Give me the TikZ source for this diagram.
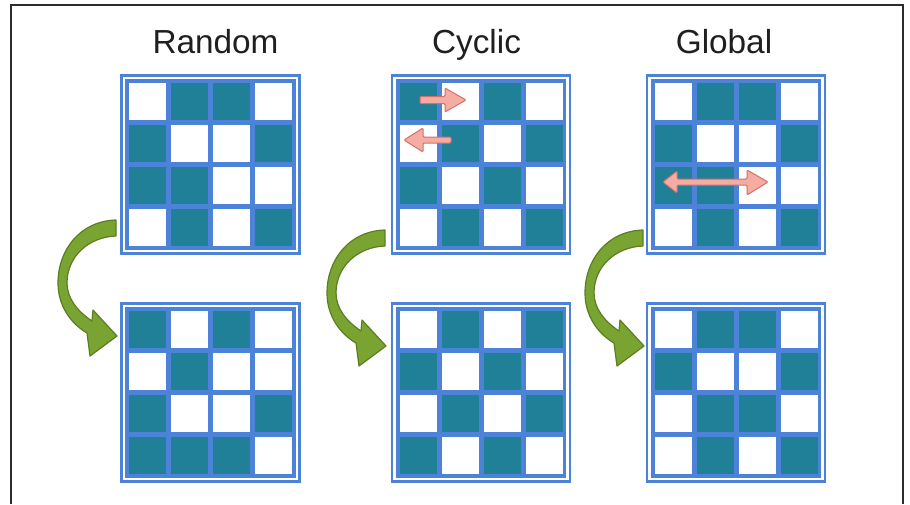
\documentclass[tikz,border=0pt]{standalone}
\usepackage{fontspec}
\setmainfont{Liberation Sans}
\definecolor{gblue}{RGB}{76,130,215}
\definecolor{gteal}{RGB}{32,128,152}
\definecolor{ggreen}{RGB}{122,164,50}
\definecolor{ggreenD}{RGB}{92,125,35}
\definecolor{gpink}{RGB}{245,172,162}
\definecolor{gpinkD}{RGB}{212,112,102}
\definecolor{gframe}{RGB}{45,45,45}
\tikzset{
  gridbox/.style={draw=gblue, fill=gblue, double=white, line width=1.875pt,
    double distance=1.875pt, minimum size=130.1pt, inner sep=0pt, outer sep=0pt},
  titletext/.style={font=\fontsize{25}{30}\selectfont, anchor=base, inner sep=0pt, text=black!88},
  bendarrow/.style={fill=ggreen, draw=ggreenD, line width=0.9pt, line join=round},
  swaparrow/.style={fill=gpink, draw=gpinkD, line width=0.75pt, rounded corners=0.8pt},
}
\newcommand\mgrid[4]{%
  \node[gridbox] (#1) at ({#2+90.5},{#3+90.5}) {};
  \foreach \v [count=\i from 0] in {#4} {
    \pgfmathtruncatemacro\gr{\i/4}
    \pgfmathtruncatemacro\gc{mod(\i,4)}
    \ifnum\v=1\relax
      \fill[gteal] ({#2+9+42*\gc},{#3+9+42*\gr}) rectangle ++(37,37);
    \else
      \fill[white] ({#2+9+42*\gc},{#3+9+42*\gr}) rectangle ++(37,37);
    \fi
  }%
}
\newcommand\greenbend[2]{%
  \begin{scope}[shift={(#1,#2)}]
    \draw[bendarrow] (116,220) .. controls (80,221) and (58,250) .. (58,283)
      .. controls (58,305) and (70,323) .. (87,333)
      -- (90,356) -- (117,336) -- (93,310) -- (92,321)
      .. controls (77,311) and (67,298) .. (67,283)
      .. controls (67,257) and (88,237) .. (116,236) -- cycle;
  \end{scope}%
}
\begin{document}
\begin{tikzpicture}[x=0.75pt, y=-0.75pt]
  \useasboundingbox (0,0) rectangle (910,504);
  \fill[white] (0,0) rectangle (910,504);
  \draw[gframe, line width=1.5pt] (11,504) -- (11,5) -- (903,5) -- (903,504);

  \node[titletext] (tRandom) at (215.5,53) {Random};
  \node[titletext] (tCyclic) at (476.5,53) {Cyclic};
  \node[titletext] (tGlobal) at (724,53) {Global};

  \mgrid{rtop}{120}{74}{0,1,1,0, 1,0,0,1, 1,1,0,0, 0,1,0,1}
  \mgrid{rbot}{120}{302}{1,0,1,0, 0,1,0,0, 1,0,0,1, 1,1,1,0}
  \mgrid{ctop}{390.5}{74}{1,0,1,0, 0,1,0,1, 1,0,1,0, 0,1,0,1}
  \mgrid{cbot}{390.5}{302}{0,1,0,1, 1,0,1,0, 0,1,0,1, 1,0,1,0}
  \mgrid{gtop}{645.5}{74}{0,1,1,0, 1,0,0,1, 1,1,0,0, 0,1,0,1}
  \mgrid{gbot}{645.5}{302}{0,1,1,0, 1,0,0,1, 0,1,1,0, 0,1,0,1}

  \greenbend{0}{0}
  \greenbend{269}{10}
  \greenbend{527}{10}

  % cyclic swaps
  \draw[swaparrow] (420,96.5) -- (445,96.5) -- (445,88) -- (466,100) -- (445,112)
    -- (445,103.5) -- (420,103.5) -- cycle;
  \draw[swaparrow] (451,137) -- (423,137) -- (423,128) -- (404,140) -- (423,152)
    -- (423,143) -- (451,143) -- cycle;
  % global swap
  \draw[swaparrow] (677,179) -- (747,179) -- (747,170) -- (768,182) -- (747,195)
    -- (747,185) -- (677,185) -- (677,193) -- (663,182) -- (677,171) -- cycle;
\end{tikzpicture}
\end{document}
